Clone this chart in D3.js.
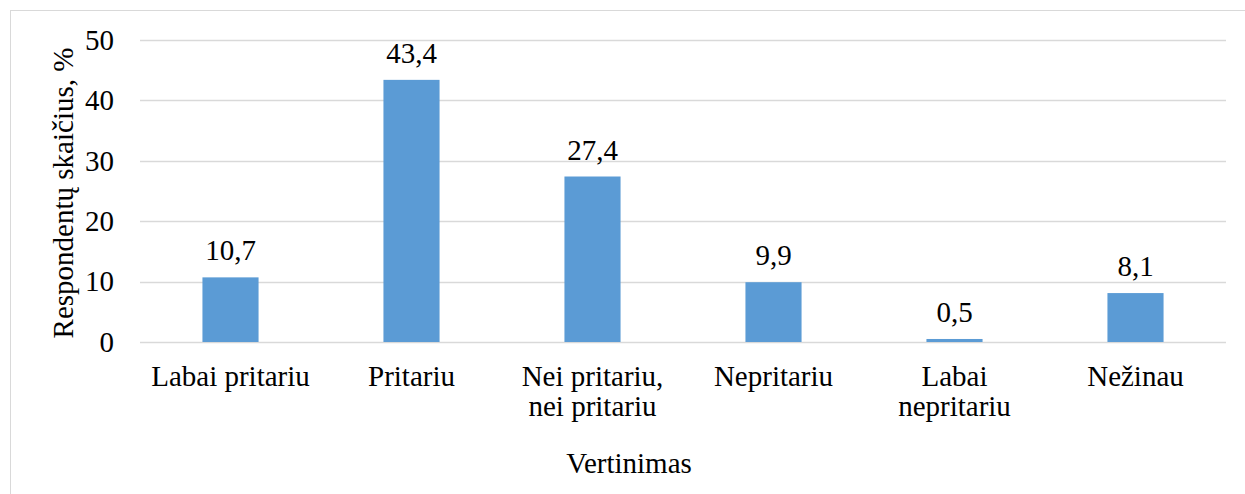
<!DOCTYPE html>
<html>
<head>
<meta charset="utf-8">
<script src="https://cdn.jsdelivr.net/npm/d3@7"></script>
<style>
  @font-face { font-family: "ChartSerif"; src: local("Liberation Serif"), local("LiberationSerif"); }
  body { margin: 0; background: #fff; }
</style>
</head>
<body>
<div id="chart"></div>
<script>
// data
const categories = ["Labai pritariu", "Pritariu", "Nei pritariu, nei pritariu", "Nepritariu", "Labai nepritariu", "Nežinau"];
const categoryLines = [["Labai pritariu"], ["Pritariu"], ["Nei pritariu,", "nei pritariu"], ["Nepritariu"], ["Labai", "nepritariu"], ["Nežinau"]];
const values = [10.7, 43.4, 27.4, 9.9, 0.5, 8.1];
const yTicks = [0, 10, 20, 30, 40, 50];

const W = 1245, H = 494;
const margin = {top: 40, right: 19, bottom: 152, left: 140};
const width = W - margin.left - margin.right;
const height = H - margin.top - margin.bottom;

const svg = d3.select("#chart").append("svg")
    .attr("width", W)
    .attr("height", H);

// outer chart frame (right and bottom edges fall outside the picture)
svg.append("rect")
    .attr("x", 10.5).attr("y", 10.5)
    .attr("width", W + 20).attr("height", H + 20)
    .attr("fill", "none")
    .attr("stroke", "#d9d9d9");

const g = svg.append("g")
    .attr("transform", "translate(" + margin.left + "," + margin.top + ")");

const x = d3.scaleBand()
    .domain(categories)
    .range([0, width])
    .paddingInner(0.69)
    .paddingOuter(0.345);

const y = d3.scaleLinear()
    .domain([0, 50])
    .range([height, 0]);

// serif labels, same as the Word chart
function serif(sel) {
    return sel.style("font-family", "'Liberation Serif', ChartSerif")
        .style("font-size", "29px");
}

// gridlines
g.append("g")
    .selectAll("line")
    .data(yTicks)
    .enter().append("line")
    .attr("x1", 0).attr("x2", width)
    .attr("y1", d => Math.round(y(d)) + 0.5)
    .attr("y2", d => Math.round(y(d)) + 0.5)
    .attr("stroke", "#d9d9d9")
    .attr("stroke-width", 1.3);

// y tick labels
g.append("g")
    .selectAll("text")
    .data(yTicks)
    .enter().append("text")
    .attr("x", -26)
    .attr("y", d => y(d))
    .attr("dy", "0.34em")
    .attr("text-anchor", "end")
    .call(serif)
    .text(d => d);

// bars
g.append("g")
    .selectAll("rect")
    .data(values)
    .enter().append("rect")
    .attr("x", (d, i) => x(categories[i]))
    .attr("y", d => y(d))
    .attr("width", x.bandwidth())
    .attr("height", d => y(0) - y(d))
    .attr("fill", "#5b9bd5");

// value labels
g.append("g")
    .selectAll("text")
    .data(values)
    .enter().append("text")
    .attr("x", (d, i) => x(categories[i]) + x.bandwidth() / 2)
    .attr("y", d => y(d) - 17)
    .attr("text-anchor", "middle")
    .call(serif)
    .text(d => d3.format(".1f")(d).replace(".", ","));

// category labels
const cat = g.append("g")
    .selectAll("text")
    .data(categories)
    .enter().append("text")
    .attr("x", d => x(d) + x.bandwidth() / 2)
    .attr("y", height + 44)
    .attr("text-anchor", "middle")
    .call(serif);

cat.selectAll("tspan")
    .data((d, i) => categoryLines[i])
    .enter().append("tspan")
    .attr("x", function() { return this.parentNode.getAttribute("x"); })
    .attr("dy", (d, i) => i === 0 ? 0 : 30)
    .text(d => d);

// axis titles
svg.append("text")
    .attr("x", 629)
    .attr("y", 473)
    .attr("text-anchor", "middle")
    .call(serif)
    .text("Vertinimas");

svg.append("text")
    .attr("transform", "translate(73,193)rotate(-90)")
    .attr("text-anchor", "middle")
    .call(serif)
    .text("Respondentų skaičius, %");
</script>
</body>
</html>
